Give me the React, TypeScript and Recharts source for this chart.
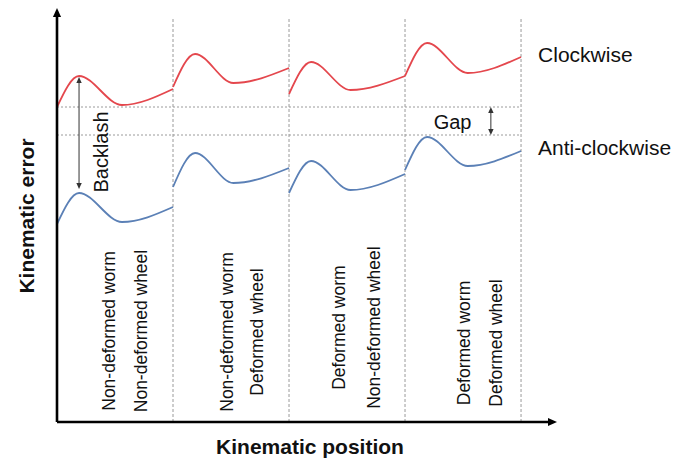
import React from 'react';
import { LineChart, Line, XAxis, YAxis, ReferenceLine, ReferenceDot, Label } from 'recharts';

// Kinematic position is measured in segment units (one unit per worm/wheel case),
// kinematic error in arbitrary units.
const clockwise1 = [
    { pos: 0, err: 78.75 },
    { pos: 0.19, err: 86.5 },
    { pos: 0.56, err: 79.25 },
    { pos: 1, err: 83.25 },
];
const clockwise2 = [
    { pos: 1, err: 83.75 },
    { pos: 1.19, err: 92 },
    { pos: 1.52, err: 84.75 },
    { pos: 2, err: 88.5 },
];
const clockwise3 = [
    { pos: 2, err: 82 },
    { pos: 2.19, err: 90 },
    { pos: 2.53, err: 83 },
    { pos: 3, err: 86.5 },
];
const clockwise4 = [
    { pos: 3, err: 86.5 },
    { pos: 3.19, err: 94.75 },
    { pos: 3.54, err: 87.25 },
    { pos: 4, err: 91.25 },
];

const antiClockwise1 = [
    { pos: 0, err: 49.5 },
    { pos: 0.19, err: 57.25 },
    { pos: 0.56, err: 50 },
    { pos: 1, err: 53.75 },
];
const antiClockwise2 = [
    { pos: 1, err: 58.75 },
    { pos: 1.19, err: 67.25 },
    { pos: 1.52, err: 59.75 },
    { pos: 2, err: 63.5 },
];
const antiClockwise3 = [
    { pos: 2, err: 57.25 },
    { pos: 2.19, err: 65.25 },
    { pos: 2.53, err: 58 },
    { pos: 3, err: 62 },
];
const antiClockwise4 = [
    { pos: 3, err: 63 },
    { pos: 3.19, err: 71.25 },
    { pos: 3.54, err: 64 },
    { pos: 4, err: 67.75 },
];

const segmentBounds = [1, 2, 3, 4];
const levelLines = [78.75, 71.75]; // clockwise start level, anti-clockwise peak level
const backlashRange = [86.25, 58.25];
const gapRange = [78.75, 71.75];

const segmentLabels = [
    ['Non-deformed worm', 'Non-deformed wheel'],
    ['Non-deformed worm', 'Deformed wheel'],
    ['Deformed worm', 'Non-deformed wheel'],
    ['Deformed worm', 'Deformed wheel'],
];

const RED = '#e4474d';
const BLUE = '#5b80b6';
const GRID = '#9a9a9a';
const INK = '#111';
const FONT = '"Liberation Sans", Arial, Helvetica, sans-serif';

// where each pair of rotated labels sits inside its segment
const labelPlacement = [
    { x: [0.447, 0.723], y: 22.75 },
    { x: [1.465, 1.724], y: 22.5 },
    { x: [2.43, 2.73], y: 23.6 },
    { x: [3.508, 3.783], y: 19.75 },
];

const arrowShape = (ends: 'end' | 'both', width: number, head: number, color: string) => (props: any) => {
    const { x1, y1, x2, y2 } = props;
    const dx = x2 - x1;
    const dy = y2 - y1;
    const len = Math.hypot(dx, dy) || 1;
    const ux = dx / len;
    const uy = dy / len;
    const nx = -uy;
    const ny = ux;
    const tri = (tx: number, ty: number, sx: number, sy: number) => {
        const bx = tx - sx * head;
        const by = ty - sy * head;
        const w = head * 0.45;
        return `${tx},${ty} ${bx + nx * w},${by + ny * w} ${bx - nx * w},${by - ny * w}`;
    };
    const sx1 = ends === 'both' ? x1 + ux * head * 0.8 : x1;
    const sy1 = ends === 'both' ? y1 + uy * head * 0.8 : y1;
    return (
        <g>
            <line x1={sx1} y1={sy1} x2={x2 - ux * head * 0.8} y2={y2 - uy * head * 0.8} stroke={color} strokeWidth={width} />
            <polygon points={tri(x2, y2, ux, uy)} fill={color} />
            {ends === 'both' && <polygon points={tri(x1, y1, -ux, -uy)} fill={color} />}
        </g>
    );
};

const textShape = (text: string, fontSize: number, rotate: boolean, anchor: 'start' | 'middle' = 'middle', bold = false) => (props: any) => {
    const { cx, cy } = props;
    return (
        <text
            x={cx}
            y={cy}
            transform={rotate ? `rotate(-90 ${cx} ${cy})` : undefined}
            textAnchor={anchor}
            dominantBaseline="central"
            fontSize={fontSize}
            fontFamily={FONT}
            fontWeight={bold ? 'bold' : 'normal'}
            fill={INK}
        >
            {text}
        </text>
    );
};

const App: React.FC = () => {
    const clockwise = [clockwise1, clockwise2, clockwise3, clockwise4];
    const antiClockwise = [antiClockwise1, antiClockwise2, antiClockwise3, antiClockwise4];

    return (
        <div style={{ position: 'absolute', left: 0, top: 0, background: '#fff' }}>
            <LineChart width={687} height={462} margin={{ top: 10, right: 130, left: 0, bottom: 0 }}>
                <XAxis dataKey="pos" type="number" domain={[0, 4.31]} height={40} tick={false} axisLine={false} tickLine={false}>
                    <Label
                        content={(p: any) => (
                            <text
                                x={p.viewBox.x + p.viewBox.width / 2 + 3}
                                y={p.viewBox.y + 24}
                                textAnchor="middle"
                                dominantBaseline="central"
                                fontSize={21}
                                fontWeight="bold"
                                fontFamily={FONT}
                                fill={INK}
                            >
                                Kinematic position
                            </text>
                        )}
                    />
                </XAxis>
                <YAxis type="number" domain={[0, 103]} width={57} tick={false} axisLine={false} tickLine={false}>
                    <Label
                        content={(p: any) => {
                            const cx = p.viewBox.x + 26;
                            const cy = p.viewBox.y + p.viewBox.height / 2;
                            return (
                                <text
                                    x={cx}
                                    y={cy}
                                    transform={`rotate(-90 ${cx} ${cy})`}
                                    textAnchor="middle"
                                    dominantBaseline="central"
                                    fontSize={21}
                                    fontWeight="bold"
                                    fontFamily={FONT}
                                    fill={INK}
                                >
                                    Kinematic error
                                </text>
                            );
                        }}
                    />
                </YAxis>

                {segmentBounds.map(b => (
                    <ReferenceLine
                        key={`div-${b}`}
                        segment={[{ x: b, y: 0 }, { x: b, y: 101 }]}
                        stroke={GRID}
                        strokeWidth={1}
                        strokeDasharray="3 2"
                        ifOverflow="visible"
                    />
                ))}
                {levelLines.map(v => (
                    <ReferenceLine
                        key={`lvl-${v}`}
                        segment={[{ x: 0, y: v }, { x: 4, y: v }]}
                        stroke={GRID}
                        strokeWidth={1}
                        strokeDasharray="2 2"
                        ifOverflow="visible"
                    />
                ))}

                {clockwise.map((d, i) => (
                    <Line key={`cw-${i}`} data={d} dataKey="err" type="monotone" stroke={RED} strokeWidth={1.8} dot={false} isAnimationActive={false} />
                ))}
                {antiClockwise.map((d, i) => (
                    <Line key={`acw-${i}`} data={d} dataKey="err" type="monotone" stroke={BLUE} strokeWidth={1.8} dot={false} isAnimationActive={false} />
                ))}

                {/* axes with arrow heads */}
                <ReferenceLine segment={[{ x: 0, y: 0 }, { x: 0, y: 103.5 }]} ifOverflow="visible" shape={arrowShape('end', 2.6, 9, '#000')} />
                <ReferenceLine segment={[{ x: 0, y: 0 }, { x: 4.31, y: 0 }]} ifOverflow="visible" shape={arrowShape('end', 2.6, 9, '#000')} />

                {/* backlash and gap markers */}
                <ReferenceLine
                    segment={[{ x: 0.19, y: backlashRange[0] }, { x: 0.19, y: backlashRange[1] }]}
                    ifOverflow="visible"
                    shape={arrowShape('both', 1, 6, '#333')}
                />
                <ReferenceLine
                    segment={[{ x: 3.74, y: gapRange[0] }, { x: 3.74, y: gapRange[1] }]}
                    ifOverflow="visible"
                    shape={arrowShape('both', 1, 6, '#333')}
                />

                <ReferenceDot x={0.38} y={67.5} r={0} ifOverflow="visible" shape={textShape('Backlash', 20, true)} />
                <ReferenceDot x={3.41} y={75} r={0} ifOverflow="visible" shape={textShape('Gap', 20, false)} />
                <ReferenceDot x={4.147} y={91.8} r={0} ifOverflow="visible" shape={textShape('Clockwise', 21, false, 'start')} />
                <ReferenceDot x={4.147} y={68.75} r={0} ifOverflow="visible" shape={textShape('Anti-clockwise', 21, false, 'start')} />

                {segmentLabels.map((pair, i) =>
                    pair.map((t, j) => (
                        <ReferenceDot
                            key={`lab-${i}-${j}`}
                            x={labelPlacement[i].x[j]}
                            y={labelPlacement[i].y}
                            r={0}
                            ifOverflow="visible"
                            shape={textShape(t, 17.5, true)}
                        />
                    ))
                )}
            </LineChart>
        </div>
    );
};

export default App;
